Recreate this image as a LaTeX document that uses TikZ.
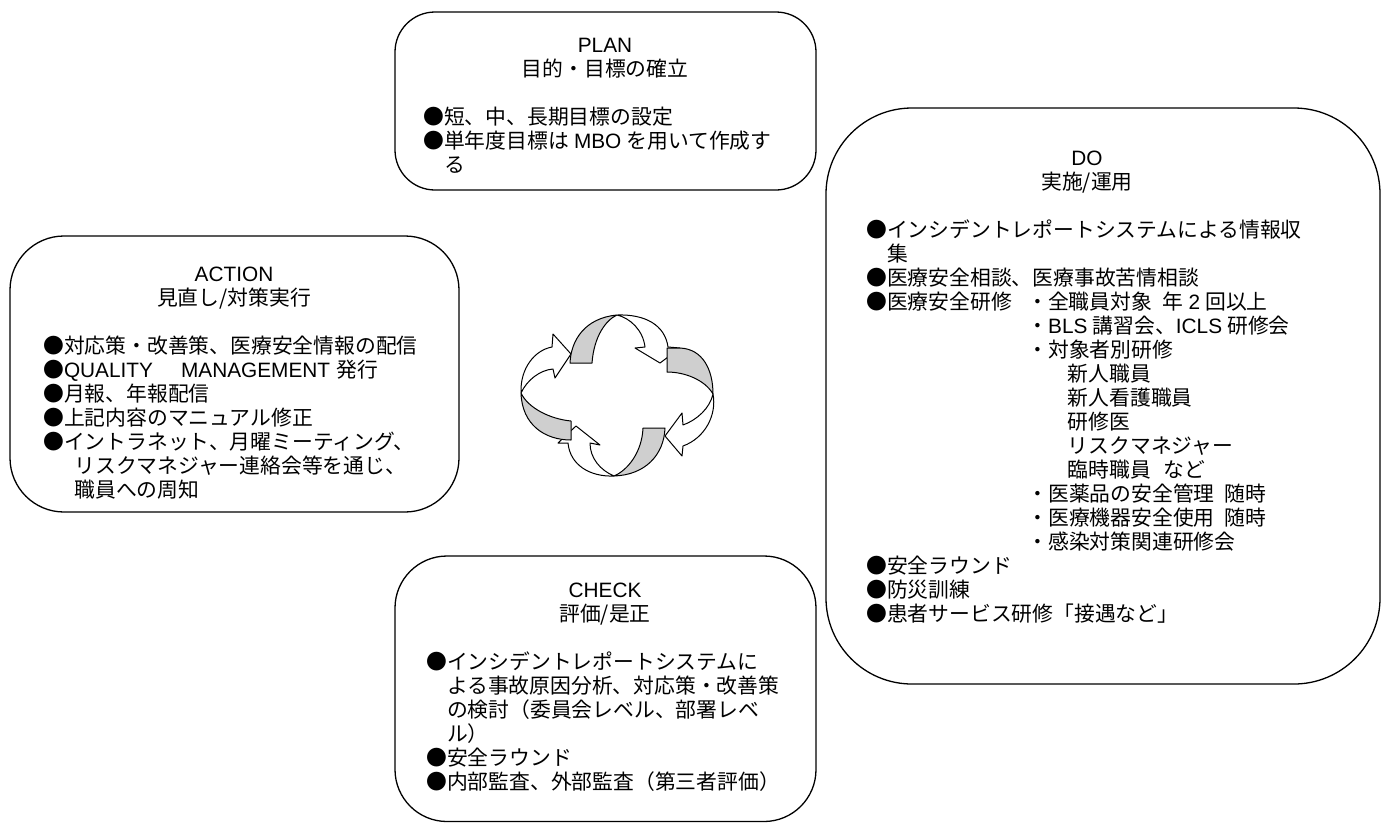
\documentclass[tikz,border=0pt]{standalone}
\usepackage{fontspec}
\setmainfont{Noto Sans CJK JP}
\newfontfamily\latn{Liberation Sans}
\newcommand\latw[1]{{\latn #1}}
\begin{document}
\begin{tikzpicture}[x=1pt,y=-1pt,
  box/.style={draw=black,line width=1.3pt},
  txt/.style={inner sep=0pt,align=left,anchor=north west,font=\fontsize{20.8}{24}\selectfont},
  hdr/.style={inner sep=0pt,align=center,anchor=north,font=\fontsize{20.8}{24}\selectfont},
  arrw/.style={draw=black,line width=1pt,fill=white,line join=round},
  arrg/.style={draw=black,line width=1pt,fill=black!19,line join=round}]
\fill[white] (0,0) rectangle (1381,823);
\useasboundingbox (0,0) rectangle (1381,823);

% boxes
\draw[box,rounded corners=40pt] (395,12) rectangle (816,190);
\draw[box,rounded corners=54pt] (10,236) rectangle (459,512);
\draw[box,rounded corners=86pt] (826,108) rectangle (1380,684);
\draw[box,rounded corners=52pt] (395,556) rectangle (816,821.5);

% PLAN
\node[hdr] (planhd) at (605,32) {\rule{0pt}{20pt}\latw{PLAN}\\目的・目標の確立};
\node[txt] (planlist) at (423,104) {\rule{0pt}{20pt}●短、中、長期目標の設定\\%
●単年度目標は\hspace{0.25em}\latw{MBO}\hspace{0.25em}を用いて作成す\\%
\hspace*{1em}る};

% ACTION
\node[hdr] (acthd) at (234,261) {\rule{0pt}{20pt}\latw{ACTION}\\見直し/対策実行};
\node[txt] (actlist) at (43,333) {\rule{0pt}{20pt}●対応策・改善策、医療安全情報の配信\\%
●\latw{QUALITY}\hspace{1.35em}\latw{MANAGEMENT}\hspace{0.3em}発行\\%
●月報、年報配信\\%
●上記内容のマニュアル修正\\%
●イントラネット、月曜ミーティング、\\%
\hspace*{1.5em}リスクマネジャー連絡会等を通じ、\\%
\hspace*{1.5em}職員への周知};

% DO
\node[hdr] (dohd) at (1087,145) {\rule{0pt}{20pt}\latw{DO}\\実施/運用};
\node[txt] (dolist) at (866,217) {\rule{0pt}{20pt}●インシデントレポートシステムによる情報収\\%
\hspace*{1em}集\\%
●医療安全相談、医療事故苦情相談\\%
●医療安全研修\hspace{0.75em}・全職員対象\hspace{0.5em}年\hspace{0.25em}\latw{2}\hspace{0.25em}回以上\\%
\hspace*{7.75em}・\latw{BLS}\hspace{0.25em}講習会、\latw{ICLS}\hspace{0.25em}研修会\\%
\hspace*{7.75em}・対象者別研修\\%
\hspace*{9.7em}新人職員\\%
\hspace*{9.7em}新人看護職員\\%
\hspace*{9.7em}研修医\\%
\hspace*{9.7em}リスクマネジャー\\%
\hspace*{9.7em}臨時職員\hspace{0.6em}など\\%
\hspace*{7.75em}・医薬品の安全管理\hspace{0.5em}随時\\%
\hspace*{7.75em}・医療機器安全使用\hspace{0.5em}随時\\%
\hspace*{7.75em}・感染対策関連研修会\\%
●安全ラウンド\\%
●防災訓練\\%
●患者サービス研修「接遇など」};

% CHECK
\node[hdr] (chkhd) at (605,577) {\rule{0pt}{20pt}\latw{CHECK}\\評価/是正};
\node[txt] (chklist) at (426,649) {\rule{0pt}{20pt}●インシデントレポートシステムに\\%
\hspace*{1em}よる事故原因分析、対応策・改善策\\%
\hspace*{1em}の検討（委員会レベル、部署レベ\\%
\hspace*{1em}ル）\\%
●安全ラウンド\\%
●内部監査、外部監査（第三者評価）};

% central cycle: white parts with heads
\path[arrw] (617,315) .. controls (645,314) and (665,325) .. (668,347) -- (680,348) -- (660,363) -- (635,348) -- (645,347) .. controls (643,330) and (630,318) .. (617,315) -- cycle;
\path[arrw] (713,394) .. controls (717,415) and (705,438) .. (683,446) -- (682,456) -- (665,436) -- (682,413) -- (683,425) .. controls (697,420) and (710,408) .. (713,394) -- cycle;
\path[arrw] (614,476) .. controls (590,477) and (570,465) .. (568,443) -- (558,443) -- (576,426) -- (600,445) -- (590,443) .. controls (590,458) and (600,470) .. (614,476) -- cycle;
\path[arrw] (521,393) .. controls (520,368) and (535,350) .. (552,347) -- (553,334) -- (571,354) -- (555,378) -- (553,369) .. controls (540,370) and (527,380) .. (521,393) -- cycle;
% gray tails
\path[arrg] (570,363) .. controls (571,340) and (585,318) .. (617,315) .. controls (606,320) and (594,336) .. (592,363) -- cycle;
\path[arrg] (667,348) -- (680,348) .. controls (703,349) and (713,370) .. (713,394) .. controls (705,380) and (685,372) .. (667,372) -- cycle;
\path[arrg] (665,428) .. controls (664,455) and (645,475) .. (614,476) .. controls (628,470) and (642,452) .. (643,428) -- cycle;
\path[arrg] (571,440) .. controls (545,440) and (522,425) .. (521,393) .. controls (528,408) and (550,419) .. (571,421) -- cycle;
\end{tikzpicture}
\end{document}
